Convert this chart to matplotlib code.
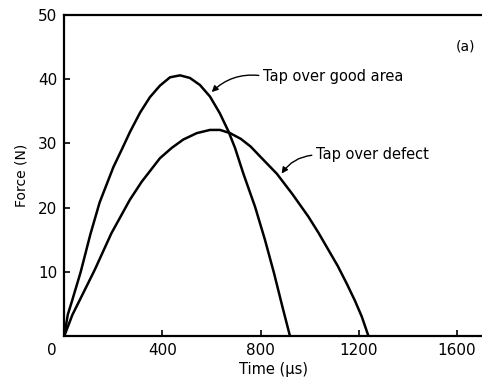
import numpy as np
import matplotlib.pyplot as plt

# impact force vs time for a coin tap
time_good = [0, 14, 31, 67, 106, 144, 200, 235, 268, 309, 349, 390, 431,
             472, 512, 553, 594, 634, 669, 696, 730, 778, 818, 855, 889, 920]
force_good = [0, 3.3, 5.4, 10.0, 15.8, 20.8, 26.3, 29.1, 31.8, 34.8, 37.2,
              39.0, 40.3, 40.6, 40.2, 39.1, 37.3, 34.7, 31.9, 29.3, 25.3,
              20.1, 15.0, 9.8, 4.6, 0]

time_defect = [0, 33, 63, 124, 192, 267, 315, 390, 438, 485, 540, 594, 635,
               676, 720, 760, 800, 866, 930, 995, 1036, 1077, 1115, 1151,
               1185, 1213, 1240]
force_defect = [0, 3.3, 5.6, 10.3, 16.0, 21.2, 24.0, 27.7, 29.3, 30.6, 31.6,
                32.1, 32.1, 31.6, 30.7, 29.5, 27.9, 25.3, 22.1, 18.6, 16.1,
                13.4, 10.9, 8.2, 5.5, 3.0, 0]

xticks = [400, 800, 1200, 1600]
yticks = [10, 20, 30, 40, 50]

fig = plt.figure(figsize=(4.82, 3.83), dpi=100)
ax = fig.add_axes([0.1334, 0.1227, 0.8666, 0.8381])

ax.plot(time_good, force_good, color='black', lw=1.8,
        solid_joinstyle='round', solid_capstyle='round')
ax.plot(time_defect, force_defect, color='black', lw=1.8,
        solid_joinstyle='round', solid_capstyle='round')

ax.set_xlim(0, 1703)
ax.set_ylim(0, 50)
ax.set_xticks(xticks)
ax.set_yticks(yticks)
ax.tick_params(direction='in', length=4, width=1.2, labelsize=11, pad=5)
ax.spines['right'].set_visible(False)
for side in ['left', 'bottom', 'top']:
    ax.spines[side].set_linewidth(1.6)

# shared origin label, set down and to the left of the corner
ax.annotate('0', xy=(0, 0), xytext=(-12, -14), textcoords='offset pixels',
            ha='center', va='center', fontsize=11)

ax.set_xlabel('Time (μs)', fontsize=10.5, labelpad=3)
ax.set_ylabel('Force (N)', fontsize=10, labelpad=7)

arrow = dict(arrowstyle='-|>', color='black', lw=1.0, mutation_scale=9,
             relpos=(0, 0.5), shrinkA=1, shrinkB=0,
             connectionstyle='arc3,rad=0.25')
ax.annotate('Tap over good area', xy=(601, 38.0), xytext=(810, 40.5),
            ha='left', va='center', fontsize=10.5, arrowprops=arrow)
ax.annotate('Tap over defect', xy=(886, 25.3), xytext=(1026, 28.2),
            ha='left', va='center', fontsize=10.5, arrowprops=arrow)

ax.text(1634, 45.1, '(a)', ha='center', va='center', fontsize=10)

fig.savefig('out.png', dpi=100)
